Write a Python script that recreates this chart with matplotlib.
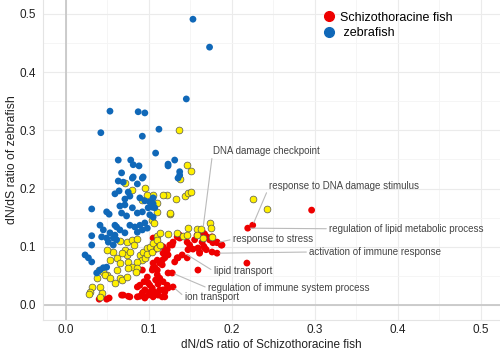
import matplotlib
matplotlib.use("Agg")
import matplotlib.pyplot as plt
from matplotlib.lines import Line2D

plt.rcParams['font.family'] = ['Liberation Sans', 'DejaVu Sans']

# dN/dS ratios, Schizothoracine fish (x) and zebrafish (y)
blue_x = [0.153, 0.173, 0.145, 0.053, 0.087, 0.095, 0.042, 0.092, 0.112, 0.078, 0.063, 0.108,
          0.131, 0.123, 0.067, 0.081, 0.088, 0.137, 0.135, 0.063, 0.069, 0.080, 0.092, 0.086,
          0.064, 0.059, 0.075, 0.077, 0.071, 0.089, 0.095, 0.031, 0.065, 0.071, 0.080, 0.099,
          0.105, 0.049, 0.052, 0.067, 0.073, 0.086, 0.092, 0.041, 0.045, 0.059, 0.077, 0.083,
          0.089, 0.095, 0.098, 0.053, 0.065, 0.071, 0.031, 0.043, 0.086, 0.092, 0.031, 0.023,
          0.027, 0.031, 0.049, 0.061, 0.057, 0.051, 0.057, 0.041, 0.045, 0.049, 0.037, 0.059,
          0.061, 0.123, 0.137, 0.105, 0.101, 0.104, 0.107, 0.101, 0.105, 0.081, 0.093]
blue_y = [0.491, 0.443, 0.354, 0.333, 0.332, 0.330, 0.296, 0.290, 0.302, 0.249, 0.249, 0.261,
          0.249, 0.242, 0.227, 0.241, 0.239, 0.223, 0.218, 0.213, 0.211, 0.218, 0.218, 0.208,
          0.196, 0.191, 0.194, 0.187, 0.182, 0.184, 0.179, 0.165, 0.170, 0.172, 0.167, 0.167,
          0.174, 0.160, 0.156, 0.158, 0.153, 0.158, 0.160, 0.137, 0.129, 0.137, 0.137, 0.134,
          0.137, 0.141, 0.132, 0.124, 0.129, 0.124, 0.119, 0.117, 0.125, 0.129, 0.103, 0.086,
          0.081, 0.074, 0.115, 0.112, 0.103, 0.108, 0.115, 0.060, 0.064, 0.065, 0.055, 0.120,
          0.134, 0.239, 0.229, 0.184, 0.177, 0.168, 0.167, 0.155, 0.151, 0.220, 0.220]

yellow_x = [0.136, 0.146, 0.151, 0.137, 0.122, 0.133, 0.143, 0.147, 0.151, 0.110, 0.125, 0.104,
            0.106, 0.173, 0.175, 0.158, 0.163, 0.147, 0.134, 0.123, 0.110, 0.113, 0.141, 0.146,
            0.158, 0.165, 0.176, 0.071, 0.080, 0.095, 0.105, 0.117, 0.125, 0.065, 0.073, 0.080,
            0.086, 0.082, 0.071, 0.073, 0.077, 0.053, 0.061, 0.065, 0.075, 0.067, 0.057, 0.089,
            0.093, 0.098, 0.101, 0.105, 0.110, 0.092, 0.095, 0.086, 0.080, 0.075, 0.086, 0.098,
            0.104, 0.110, 0.113, 0.040, 0.045, 0.049, 0.061, 0.065, 0.067, 0.059, 0.037, 0.041,
            0.031, 0.029, 0.028, 0.043, 0.041, 0.047, 0.049, 0.053, 0.073, 0.084, 0.225, 0.242,
            0.098, 0.110, 0.092]
yellow_y = [0.301, 0.241, 0.230, 0.216, 0.189, 0.182, 0.187, 0.192, 0.194, 0.160, 0.156, 0.146,
            0.141, 0.141, 0.132, 0.131, 0.131, 0.132, 0.124, 0.122, 0.119, 0.124, 0.119, 0.120,
            0.120, 0.115, 0.117, 0.210, 0.198, 0.201, 0.189, 0.189, 0.158, 0.110, 0.108, 0.112,
            0.113, 0.103, 0.095, 0.086, 0.091, 0.077, 0.081, 0.072, 0.074, 0.089, 0.091, 0.086,
            0.091, 0.098, 0.100, 0.107, 0.112, 0.077, 0.081, 0.074, 0.065, 0.064, 0.064, 0.088,
            0.091, 0.098, 0.103, 0.060, 0.057, 0.052, 0.060, 0.046, 0.043, 0.038, 0.046, 0.031,
            0.031, 0.022, 0.019, 0.021, 0.014, 0.052, 0.095, 0.046, 0.048, 0.057, 0.182, 0.165,
            0.189, 0.175, 0.180]

red_x = [0.040, 0.049, 0.052, 0.067, 0.075, 0.086, 0.089, 0.086, 0.094, 0.099, 0.086, 0.104,
         0.107, 0.113, 0.116, 0.117, 0.122, 0.125, 0.129, 0.134, 0.137, 0.146, 0.149, 0.155,
         0.158, 0.165, 0.170, 0.173, 0.177, 0.161, 0.159, 0.129, 0.128, 0.105, 0.110, 0.107,
         0.117, 0.119, 0.123, 0.116, 0.105, 0.110, 0.113, 0.117, 0.122, 0.123, 0.131, 0.135,
         0.140, 0.146, 0.147, 0.153, 0.159, 0.167, 0.176, 0.128, 0.137, 0.164, 0.182, 0.188,
         0.104, 0.107, 0.111, 0.116, 0.119, 0.105, 0.113, 0.119, 0.123, 0.167, 0.176, 0.187,
         0.182, 0.166, 0.169, 0.182, 0.219, 0.225, 0.296, 0.218, 0.161, 0.095, 0.099, 0.101,
         0.095, 0.092, 0.101, 0.108, 0.111, 0.117, 0.098, 0.089, 0.069, 0.077, 0.092, 0.110,
         0.110, 0.105, 0.134]
red_y = [0.010, 0.010, 0.012, 0.017, 0.015, 0.014, 0.015, 0.031, 0.040, 0.038, 0.057, 0.060,
         0.065, 0.072, 0.077, 0.089, 0.095, 0.103, 0.108, 0.117, 0.120, 0.108, 0.103, 0.112,
         0.120, 0.124, 0.117, 0.112, 0.107, 0.089, 0.060, 0.031, 0.055, 0.115, 0.108, 0.095,
         0.100, 0.081, 0.086, 0.069, 0.064, 0.052, 0.046, 0.040, 0.034, 0.055, 0.074, 0.081,
         0.086, 0.081, 0.095, 0.096, 0.098, 0.098, 0.091, 0.103, 0.115, 0.108, 0.108, 0.103,
         0.029, 0.022, 0.017, 0.014, 0.014, 0.014, 0.026, 0.022, 0.029, 0.122, 0.117, 0.103,
         0.107, 0.101, 0.095, 0.089, 0.132, 0.137, 0.163, 0.072, 0.091, 0.026, 0.017, 0.022,
         0.012, 0.021, 0.034, 0.043, 0.036, 0.026, 0.048, 0.034, 0.017, 0.014, 0.060, 0.077,
         0.060, 0.072, 0.081]

# GO term labels: text, labelled point, text anchor
labels = ["DNA damage checkpoint", "response to DNA damage stimulus",
          "regulation of lipid metabolic process", "response to stress",
          "activation of immune response", "lipid transport",
          "regulation of immune system process", "ion transport"]
label_pt_x = [0.165, 0.225, 0.219, 0.182, 0.182, 0.143, 0.128, 0.129]
label_pt_y = [0.130, 0.137, 0.132, 0.107, 0.089, 0.089, 0.055, 0.031]
label_tx_x = [0.177, 0.245, 0.317, 0.201, 0.293, 0.178, 0.171, 0.143]
label_tx_y = [0.265, 0.204, 0.131, 0.113, 0.091, 0.058, 0.029, 0.014]

RED = '#ee0000'
BLUE = '#1068b8'
YELLOW = '#fff000'

fig = plt.figure(figsize=(5, 3.56), dpi=100)
ax = fig.add_axes([43 / 500, 36 / 356, 457 / 500, 320 / 356])

ax.set_xlim(-0.0277, 0.523)
ax.set_ylim(-0.0258, 0.524)
ax.set_xticks([0.0, 0.1, 0.2, 0.3, 0.4, 0.5])
ax.set_yticks([0.0, 0.1, 0.2, 0.3, 0.4, 0.5])
ax.set_xticks([0.05, 0.15, 0.25, 0.35, 0.45], minor=True)
ax.set_yticks([0.05, 0.15, 0.25, 0.35, 0.45], minor=True)
ax.grid(True, which='major', color='#ebebeb', lw=0.8)
ax.grid(True, which='minor', color='#f4f4f4', lw=0.6)
ax.set_axisbelow(True)
ax.tick_params(which='both', length=0, labelsize=8.5, labelcolor='#222222')
ax.tick_params(axis='y', pad=5)
ax.tick_params(axis='x', pad=3)
for side in ['top', 'right']:
    ax.spines[side].set_visible(False)
for side in ['left', 'bottom']:
    ax.spines[side].set_color('#e4e4e4')
    ax.spines[side].set_linewidth(0.8)

ax.axhline(0.0, color='#c8c8c8', lw=1.3, zorder=1)
ax.axvline(0.0, color='#c8c8c8', lw=1.3, zorder=1)

ax.scatter(red_x, red_y, s=24, color=RED, edgecolors='none', zorder=3)
ax.scatter(yellow_x, yellow_y, s=24, color=YELLOW, edgecolors='#555555', linewidths=0.5, zorder=4)
ax.scatter(blue_x, blue_y, s=24, color=BLUE, edgecolors='none', zorder=5)

for text, px, py, tx, ty in zip(labels, label_pt_x, label_pt_y, label_tx_x, label_tx_y):
    ax.annotate(text, xy=(px, py), xytext=(tx, ty), ha='left', va='center',
                fontsize=7, color='#444444', zorder=6,
                arrowprops=dict(arrowstyle='-', color='#bbbbbb', lw=0.8,
                                shrinkA=0, shrinkB=2, relpos=(0, 0.5)))

ax.set_xlabel('dN/dS ratio of Schizothoracine fish', fontsize=8.5, color='#222222')
ax.set_ylabel('dN/dS ratio of zebrafish', fontsize=8.8, color='#222222')
ax.xaxis.set_label_coords(0.5, -(345 - 320) / 320, transform=ax.transAxes)
ax.yaxis.set_label_coords(-(43 - 12) / 457, 0.5, transform=ax.transAxes)
ax.xaxis.label.set_va('center')
ax.yaxis.label.set_va('center')

handles = [Line2D([], [], marker='o', ls='', color=RED, markersize=7),
           Line2D([], [], marker='o', ls='', color=BLUE, markersize=7)]
fig.legend(handles, ['Schizothoracine fish', ' zebrafish'], loc='upper left',
           bbox_to_anchor=(313 / 500, 1 - 3 / 356), frameon=False, fontsize=9,
           handletextpad=0.3, labelspacing=0.3, handlelength=1.2, borderpad=0.2)

fig.savefig('out.png', dpi=100)
